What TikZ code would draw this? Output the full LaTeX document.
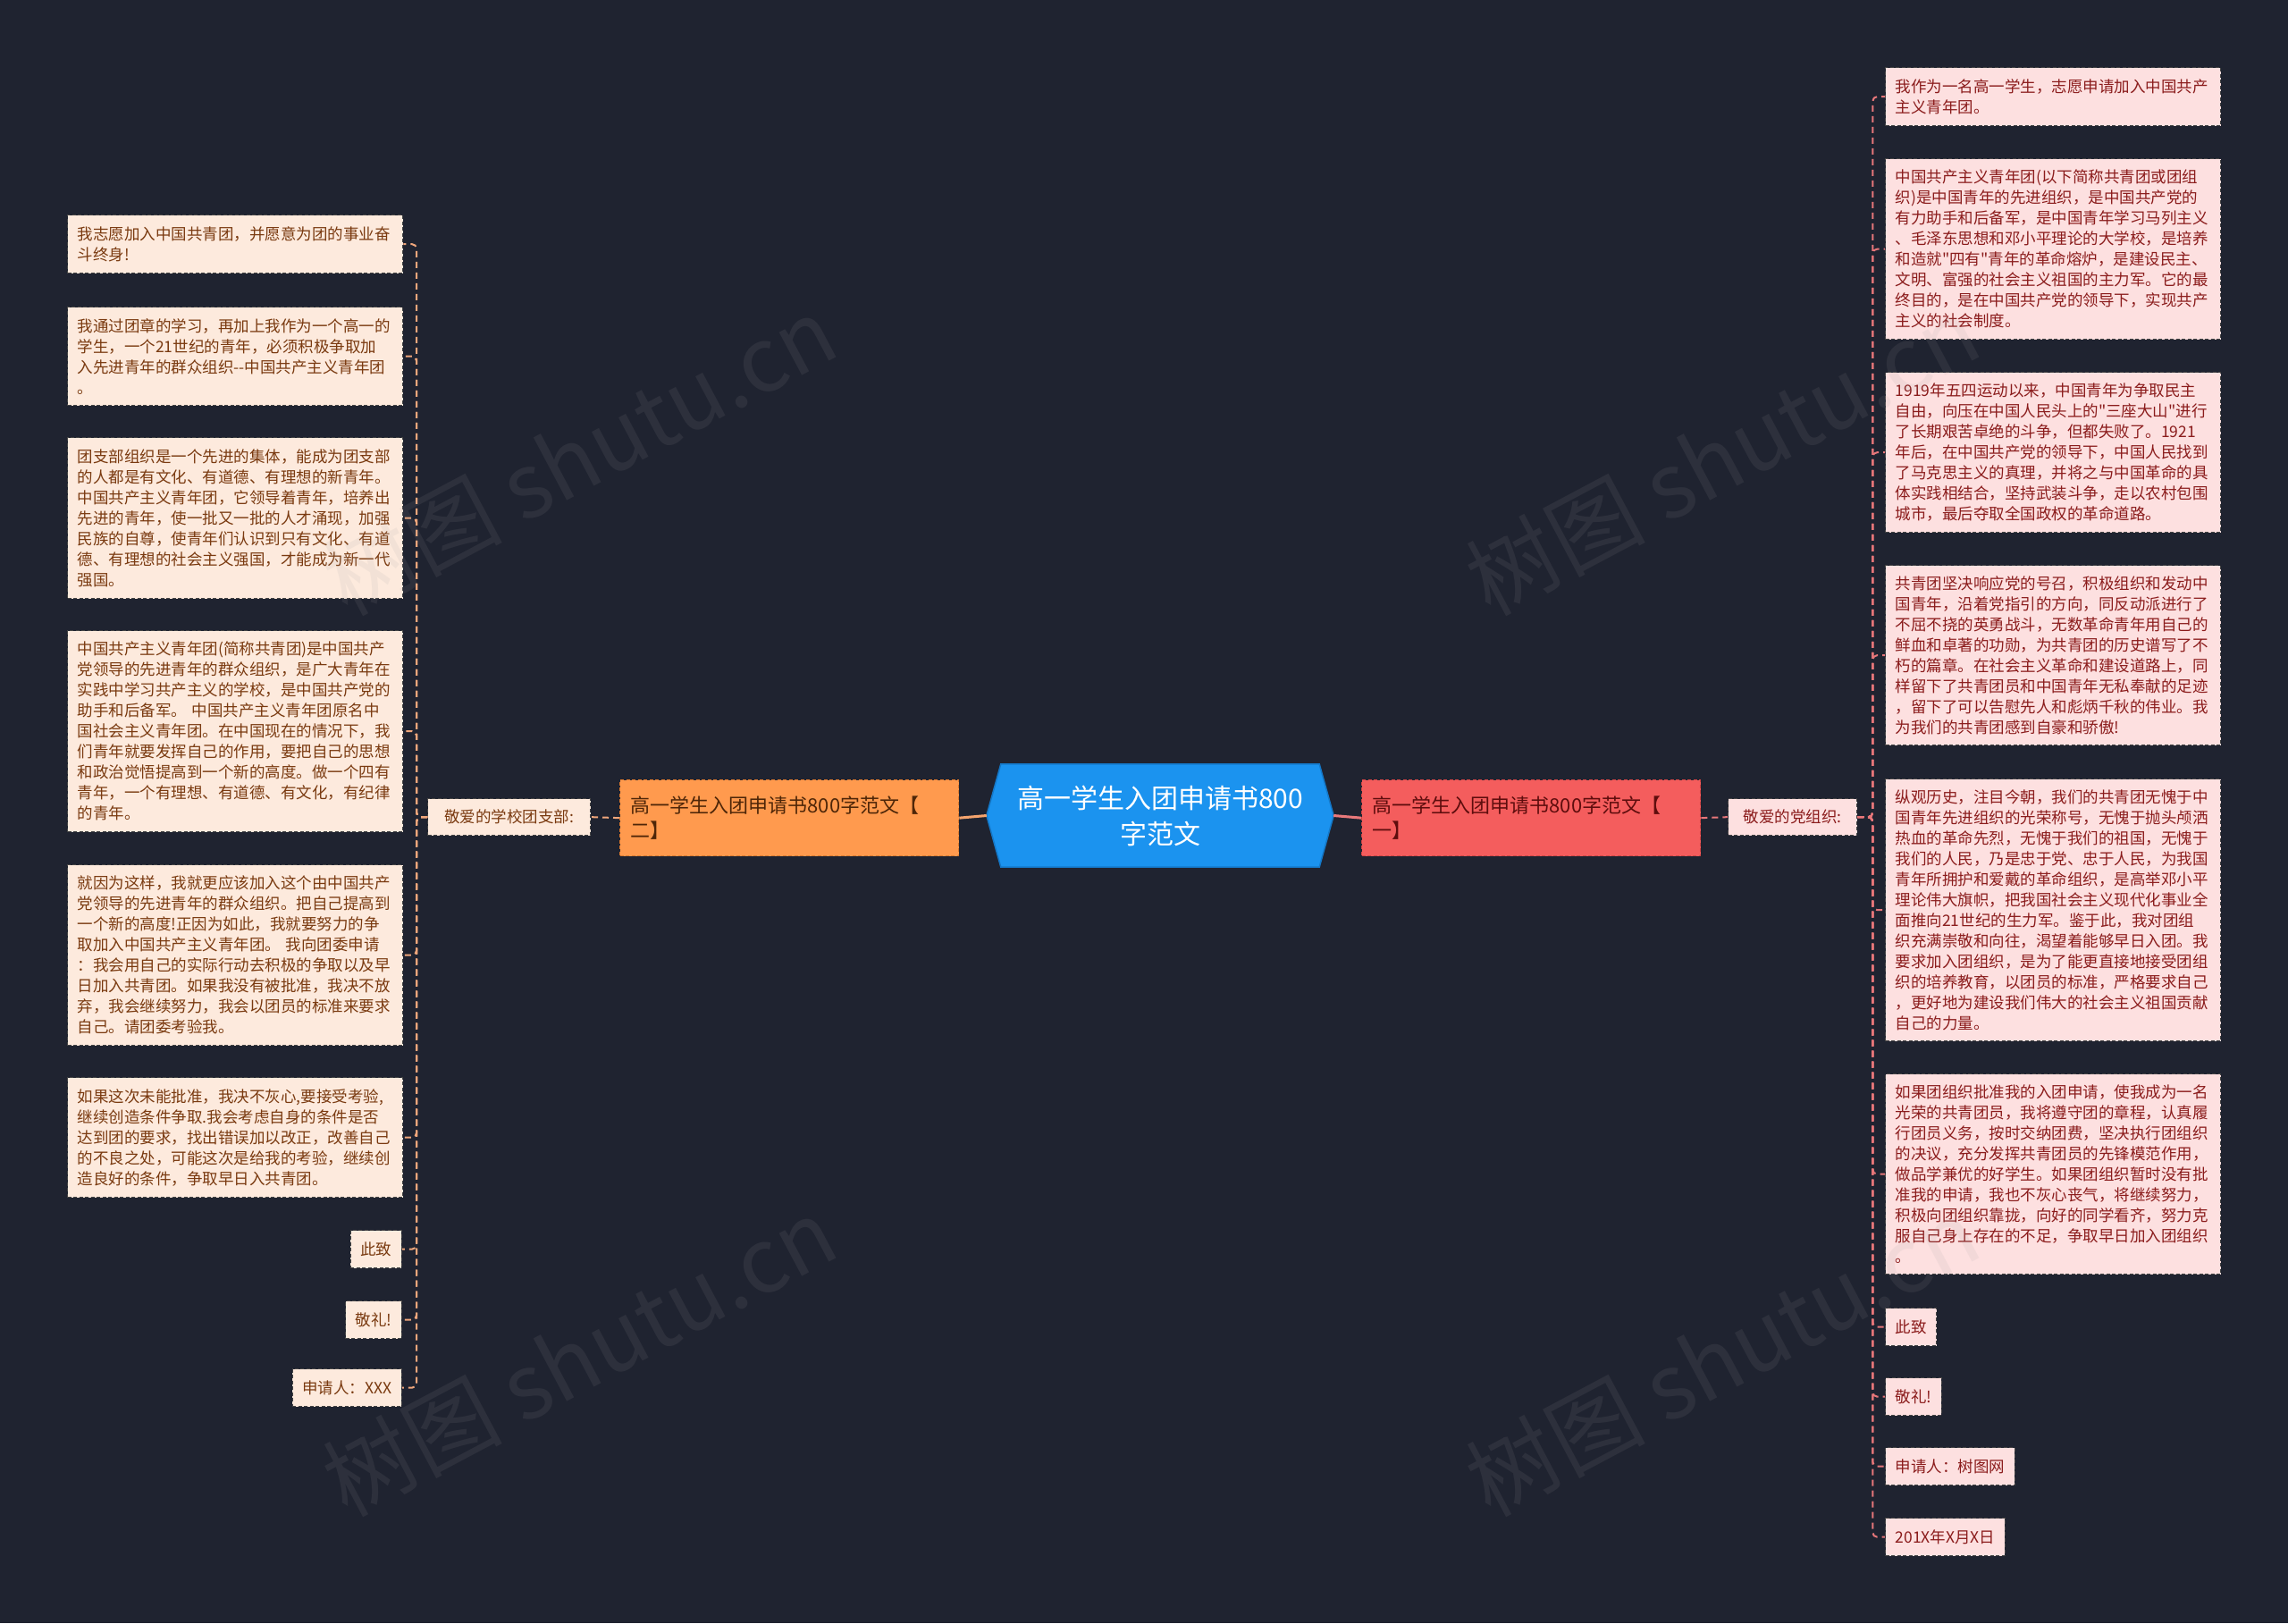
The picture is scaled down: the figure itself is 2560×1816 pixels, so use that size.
\documentclass[tikz,border=0pt]{standalone}
\usepackage{fontspec}
\newfontfamily\cjk{Noto Sans CJK SC}
\usetikzlibrary{calc}
\setlength{\parindent}{0pt}
\definecolor{bgc}{HTML}{1F2330}
\definecolor{cfill}{HTML}{1B93EF}
\definecolor{cedge}{HTML}{1478C8}
\definecolor{alfill}{HTML}{FF9A4E}
\definecolor{altext}{HTML}{4E2608}
\definecolor{aledge}{HTML}{D9782E}
\definecolor{arfill}{HTML}{F45D5D}
\definecolor{artext}{HTML}{5E0D0D}
\definecolor{aredge}{HTML}{D04444}
\definecolor{lfill}{HTML}{FDEADD}
\definecolor{ltext}{HTML}{7A3A10}
\definecolor{rfill}{HTML}{FDE0E0}
\definecolor{rtext}{HTML}{8B1C1C}
\definecolor{boxedge}{HTML}{444444}
\definecolor{lline}{HTML}{F0A77C}
\definecolor{rline}{HTML}{E8777A}
\definecolor{clineL}{HTML}{F5A46E}
\definecolor{clineR}{HTML}{E9797B}
\definecolor{wmc}{HTML}{A0A0A0}
\pgfdeclarelayer{pagebg}
\pgfdeclarelayer{shapebg}
\pgfsetlayers{pagebg,shapebg,main}
\begin{document}
\begin{tikzpicture}[x=1pt,y=-1pt,
  leafL/.style={draw=boxedge, dash pattern=on 4pt off 2.5pt, line width=1.3pt,
    fill=lfill, text=ltext, font=\cjk\fontsize{17.5pt}{23pt}\selectfont,
    align=left, inner xsep=11pt, inner ysep=0pt},
  leafR/.style={leafL, fill=rfill, text=rtext},
  boxL/.style={leafL, anchor=north west, text width=353pt},
  boxR/.style={leafR, anchor=north west, text width=353pt},
  lconn/.style={draw=lline, line width=2pt, dash pattern=on 7pt off 5pt, rounded corners=5pt},
  rconn/.style={lconn, draw=rline},
  lvone/.style={anchor=north west, text width=355pt, minimum height=85pt,
    inner xsep=12pt, inner ysep=0pt, align=left, line width=1.3pt,
    dash pattern=on 4pt off 2.5pt, font=\cjk\fontsize{22pt}{28pt}\selectfont},
  centre/.style={text=white, align=center, inner sep=0pt,
    font=\cjk\fontsize{30pt}{40pt}\selectfont},
  wm/.style={text=wmc, text opacity=0.11, rotate=28,
    font=\cjk\fontsize{100pt}{110pt}\selectfont},
]
\useasboundingbox (0,0) rectangle (2560,1816);
\begin{pgfonlayer}{pagebg}
\fill[bgc] (0,0) rectangle (2560,1816);
\end{pgfonlayer}

% centre
\node[centre, minimum width=356pt, minimum height=115pt] (C) at (1298,912.5) {高一学生入团申请书800\\字范文};
\begin{pgfonlayer}{shapebg}
\filldraw[fill=cfill, draw=cedge, line width=1.5pt] (C.north west) -- (C.north east) -- ($(C.east)+(16,0)$) -- (C.south east) -- (C.south west) -- ($(C.west)+(-16,0)$) -- cycle;
\end{pgfonlayer}

% level one
\node[lvone, fill=alfill, draw=aledge, text=altext] (AL) at (693,872) {高一学生入团申请书800字范文【\\二】};
\node[lvone, fill=arfill, draw=aredge, text=artext] (AR) at (1523,872) {高一学生入团申请书800字范文【\\一】};

% level two
\node[leafL, anchor=north west, minimum width=182pt, minimum height=41pt, align=center] (BL) at (478,893) {敬爱的学校团支部:};
\node[leafR, anchor=north west, minimum width=144pt, minimum height=41pt, align=center] (BR) at (1933,893) {敬爱的党组织:};

% left leaves
\node[boxL, minimum height=65pt] (L1) at (75,240) {我志愿加入中国共青团，并愿意为团的事业奋\\斗终身!};
\node[boxL, minimum height=110pt] (L2) at (75,343) {我通过团章的学习，再加上我作为一个高一的\\学生，一个21世纪的青年，必须积极争取加\\入先进青年的群众组织-{}-中国共产主义青年团\\。};
\node[boxL, minimum height=180pt] (L3) at (75,489) {团支部组织是一个先进的集体，能成为团支部\\的人都是有文化、有道德、有理想的新青年。\\中国共产主义青年团，它领导着青年，培养出\\先进的青年，使一批又一批的人才涌现，加强\\民族的自尊，使青年们认识到只有文化、有道\\德、有理想的社会主义强国，才能成为新一代\\强国。};
\node[boxL, minimum height=225pt] (L4) at (75,705) {中国共产主义青年团(简称共青团)是中国共产\\党领导的先进青年的群众组织，是广大青年在\\实践中学习共产主义的学校，是中国共产党的\\助手和后备军。 中国共产主义青年团原名中\\国社会主义青年团。在中国现在的情况下，我\\们青年就要发挥自己的作用，要把自己的思想\\和政治觉悟提高到一个新的高度。做一个四有\\青年，一个有理想、有道德、有文化，有纪律\\的青年。};
\node[boxL, minimum height=202pt] (L5) at (75,967) {就因为这样，我就更应该加入这个由中国共产\\党领导的先进青年的群众组织。把自己提高到\\一个新的高度!正因为如此，我就要努力的争\\取加入中国共产主义青年团。 我向团委申请\\：我会用自己的实际行动去积极的争取以及早\\日加入共青团。如果我没有被批准，我决不放\\弃，我会继续努力，我会以团员的标准来要求\\自己。请团委考验我。};
\node[boxL, minimum height=134pt] (L6) at (75,1205) {如果这次未能批准，我决不灰心,要接受考验,\\继续创造条件争取.我会考虑自身的条件是否\\达到团的要求，找出错误加以改正，改善自己\\的不良之处，可能这次是给我的考验，继续创\\造良好的条件，争取早日入共青团。};
\node[leafL, anchor=north east, minimum height=42pt] (L7) at (450,1376) {此致};
\node[leafL, anchor=north east, minimum height=42pt] (L8) at (450,1455) {敬礼!};
\node[leafL, anchor=north east, minimum height=42pt] (L9) at (450,1531) {申请人：XXX};

% right leaves
\node[boxR, minimum height=65pt] (R1) at (2109,75) {我作为一名高一学生，志愿申请加入中国共产\\主义青年团。};
\node[boxR, minimum height=202pt] (R2) at (2109,177) {中国共产主义青年团(以下简称共青团或团组\\织)是中国青年的先进组织，是中国共产党的\\有力助手和后备军，是中国青年学习马列主义\\、毛泽东思想和邓小平理论的大学校，是培养\\和造就"四有"青年的革命熔炉，是建设民主、\\文明、富强的社会主义祖国的主力军。它的最\\终目的，是在中国共产党的领导下，实现共产\\主义的社会制度。};
\node[boxR, minimum height=179pt] (R3) at (2109,416) {1919年五四运动以来，中国青年为争取民主\\自由，向压在中国人民头上的"三座大山"进行\\了长期艰苦卓绝的斗争，但都失败了。1921\\年后，在中国共产党的领导下，中国人民找到\\了马克思主义的真理，并将之与中国革命的具\\体实践相结合，坚持武装斗争，走以农村包围\\城市，最后夺取全国政权的革命道路。};
\node[boxR, minimum height=201pt] (R4) at (2109,632) {共青团坚决响应党的号召，积极组织和发动中\\国青年，沿着党指引的方向，同反动派进行了\\不屈不挠的英勇战斗，无数革命青年用自己的\\鲜血和卓著的功勋，为共青团的历史谱写了不\\朽的篇章。在社会主义革命和建设道路上，同\\样留下了共青团员和中国青年无私奉献的足迹\\，留下了可以告慰先人和彪炳千秋的伟业。我\\为我们的共青团感到自豪和骄傲!};
\node[boxR, minimum height=293pt] (R5) at (2109,871) {纵观历史，注目今朝，我们的共青团无愧于中\\国青年先进组织的光荣称号，无愧于抛头颅洒\\热血的革命先烈，无愧于我们的祖国，无愧于\\我们的人民，乃是忠于党、忠于人民，为我国\\青年所拥护和爱戴的革命组织，是高举邓小平\\理论伟大旗帜，把我国社会主义现代化事业全\\面推向21世纪的生力军。鉴于此，我对团组\\织充满崇敬和向往，渴望着能够早日入团。我\\要求加入团组织，是为了能更直接地接受团组\\织的培养教育，以团员的标准，严格要求自己\\，更好地为建设我们伟大的社会主义祖国贡献\\自己的力量。};
\node[boxR, minimum height=224pt] (R6) at (2109,1201) {如果团组织批准我的入团申请，使我成为一名\\光荣的共青团员，我将遵守团的章程，认真履\\行团员义务，按时交纳团费，坚决执行团组织\\的决议，充分发挥共青团员的先锋模范作用，\\做品学兼优的好学生。如果团组织暂时没有批\\准我的申请，我也不灰心丧气，将继续努力，\\积极向团组织靠拢，向好的同学看齐，努力克\\服自己身上存在的不足，争取早日加入团组织\\。};
\node[leafR, anchor=north west, minimum height=42pt] (R7) at (2109,1463) {此致};
\node[leafR, anchor=north west, minimum height=42pt] (R8) at (2109,1541) {敬礼!};
\node[leafR, anchor=north west, minimum height=42pt] (R9) at (2109,1619) {申请人：树图网};
\node[leafR, anchor=north west, minimum height=42pt] (R10) at (2109,1698) {201X年X月X日};

% connectors
\begin{pgfonlayer}{shapebg}
\draw[draw=clineL, line width=3pt] ($(C.west)+(-16,0)$) -- (AL.east);
\draw[draw=clineR, line width=3pt] ($(C.east)+(16,0)$) -- (AR.west);
\end{pgfonlayer}
\draw[lconn] (AL.west) -- (BL.east);
\draw[rconn] (AR.east) -- (BR.west);
\foreach \n in {L1,L2,L3,L4,L5,L6,L7,L8,L9}
  \draw[lconn] (BL.west) -- ++(-12,0) |- (\n.east);
\foreach \n in {R1,R2,R3,R4,R5,R6,R7,R8,R9,R10}
  \draw[rconn] (BR.east) -- ++(17,0) |- (\n.west);

% watermarks
\node[wm] (wm1) at (648,510) {树图 shutu.cn};
\node[wm] (wm2) at (1927,510) {树图 shutu.cn};
\node[wm] (wm3) at (648,1518) {树图 shutu.cn};
\node[wm] (wm4) at (1927,1518) {树图 shutu.cn};
\end{tikzpicture}
\end{document}
